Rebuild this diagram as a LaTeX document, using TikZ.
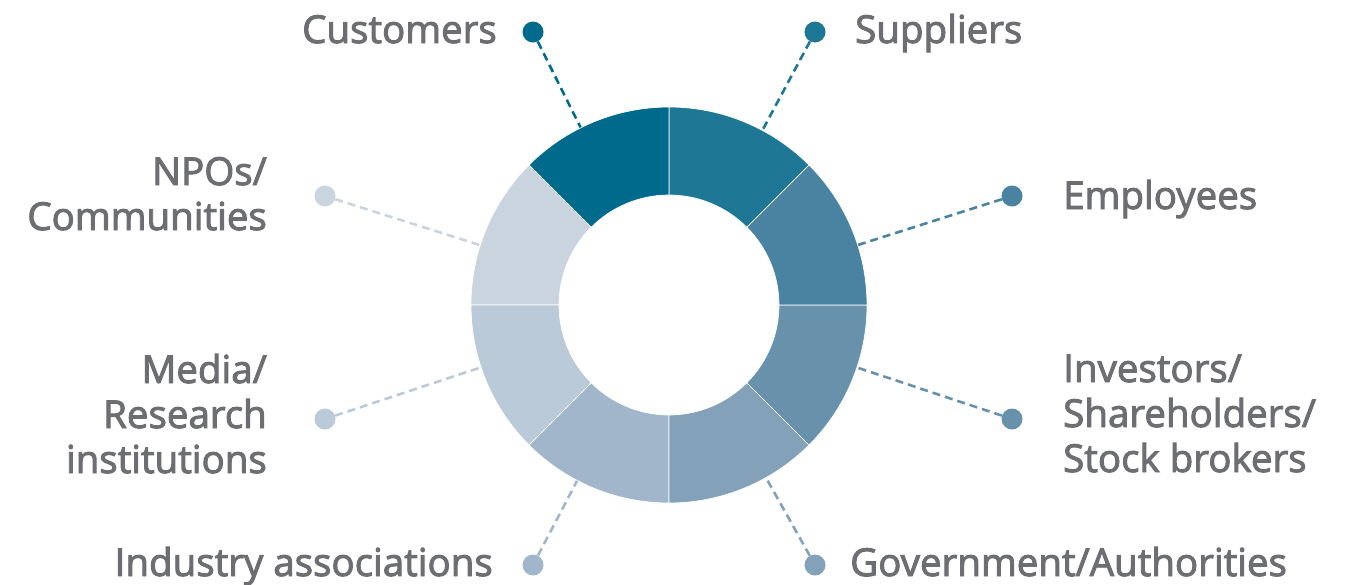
\documentclass[tikz,border=0pt]{standalone}
\usepackage{fontspec}
\setmainfont{Open Sans}[RawFeature={embolden=2.5}]
\usetikzlibrary{calc}
\definecolor{cCus}{HTML}{006A8C}
\definecolor{cSup}{HTML}{1F7796}
\definecolor{cEmp}{HTML}{4A83A1}
\definecolor{cInv}{HTML}{6892AC}
\definecolor{cGov}{HTML}{83A2B9}
\definecolor{cInd}{HTML}{A1B6CA}
\definecolor{cMed}{HTML}{BBCAD8}
\definecolor{cNpo}{HTML}{C9D4DF}
\definecolor{txt}{HTML}{6D6E71}
\tikzset{
  dotnode/.style={circle, inner sep=0pt, minimum size=21pt},
  dashline/.style={line width=2.6pt, dash pattern=on 8pt off 5pt},
  lbl/.style={inner sep=0pt, text=txt, font=\fontsize{38.5}{45}\selectfont},
  seg/.style={draw=white, line width=0.7pt}
}
\newcommand{\donutseg}[3]{%
  \filldraw[seg, fill=#3] ($(c)+(#1:198pt)$) arc[start angle=#1, end angle=#2, radius=198pt]
    -- ($(c)+(#2:110pt)$) arc[start angle=#2, end angle=#1, radius=110pt] -- cycle;}
\begin{document}
\begin{tikzpicture}[x=1pt,y=1pt]
\useasboundingbox (0,0) rectangle (1349,-584);
\coordinate (c) at (669,-305);
% dots
\node[dotnode, fill=cCus] (dCus) at (533,-32) {};
\node[dotnode, fill=cSup] (dSup) at (815,-32) {};
\node[dotnode, fill=cEmp] (dEmp) at (1012,-196) {};
\node[dotnode, fill=cInv] (dInv) at (1012,-419) {};
\node[dotnode, fill=cGov] (dGov) at (815,-565) {};
\node[dotnode, fill=cInd] (dInd) at (533,-565) {};
\node[dotnode, fill=cMed] (dMed) at (325,-419) {};
\node[dotnode, fill=cNpo] (dNpo) at (325,-196) {};
% connectors
\foreach \n/\col in {Cus/cCus,Sup/cSup,Emp/cEmp,Inv/cInv,Gov/cGov,Ind/cInd,Med/cMed,Npo/cNpo}{
  \draw[dashline, \col] (d\n) -- ($(c)!196pt!(d\n)$);
}
% donut
\donutseg{45}{90}{cSup}
\donutseg{90}{135}{cCus}
\donutseg{135}{180}{cNpo}
\donutseg{180}{225}{cMed}
\donutseg{225}{270}{cInd}
\donutseg{270}{315}{cGov}
\donutseg{315}{360}{cInv}
\donutseg{0}{45}{cEmp}
% labels (base anchor of a multi-line node = last line)
\node[lbl, anchor=base east] (tCus) at (497,-43) {Customers};
\node[lbl, anchor=base west] (tSup) at (855,-43) {Suppliers};
\node[lbl, anchor=base west] (tEmp) at (1063,-209) {Employees};
\node[lbl, anchor=base west, align=left] (tInv) at (1063,-472) {Investors/\\Shareholders/\\Stock brokers};
\node[lbl, anchor=base east, align=right] (tNpo) at (267,-230) {NPOs/\\Communities};
\node[lbl, anchor=base east, align=right] (tMed) at (267,-473) {Media/\\Research\\institutions};
\node[lbl, anchor=base east] (tInd) at (493,-576) {Industry associations};
\node[lbl, anchor=base west] (tGov) at (850,-576) {Government/Authorities};
\end{tikzpicture}
\end{document}
